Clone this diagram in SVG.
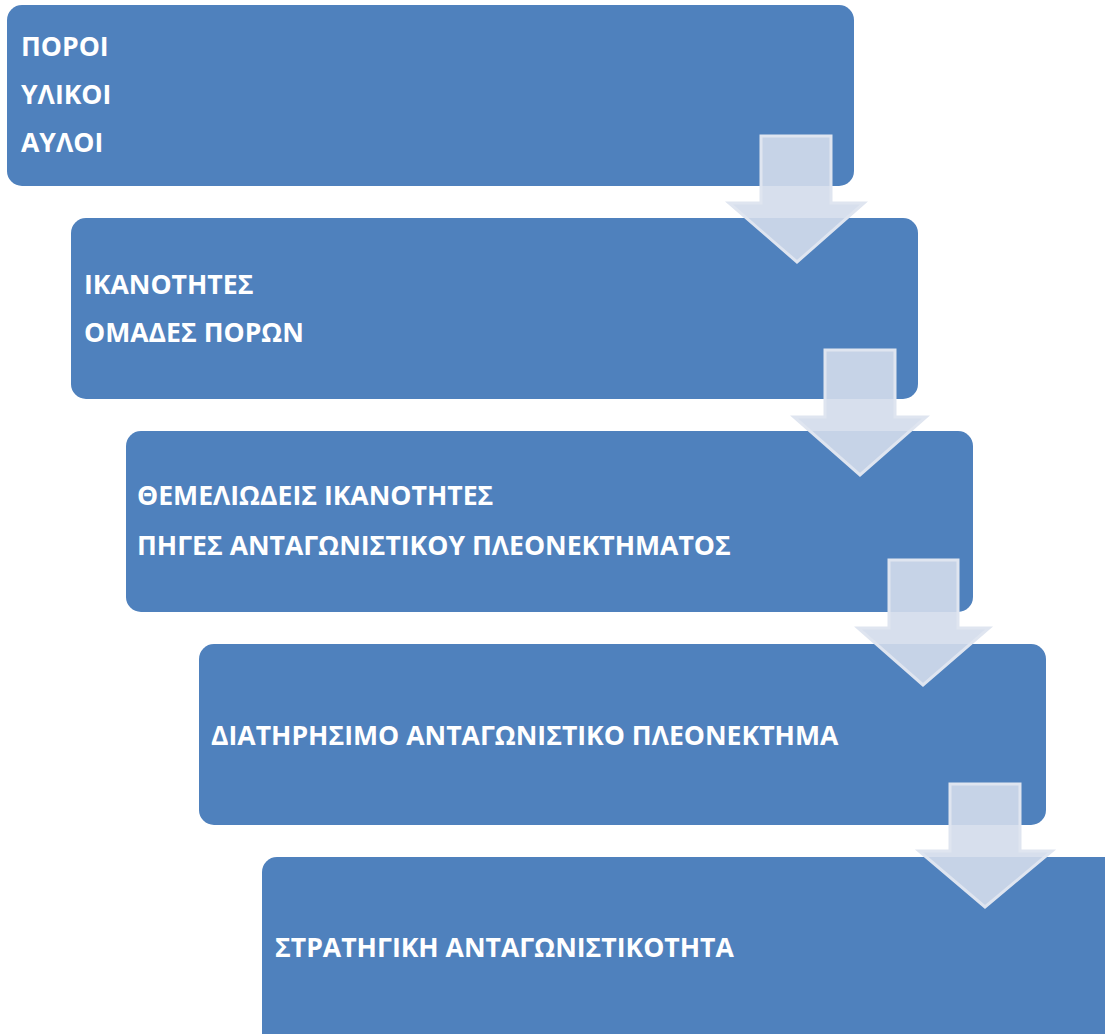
<svg xmlns="http://www.w3.org/2000/svg" width="1105" height="1034" viewBox="0 0 1105 1034">
<style>
.box{fill:#4f81bd;}
.t{font-family:"Open Sans","Noto Sans","DejaVu Sans",sans-serif;font-weight:bold;font-size:26.6px;fill:#ffffff;}
.arr{fill:#d3dbeb;fill-opacity:0.9;stroke:#dfe5f0;stroke-width:3;stroke-linejoin:miter;}
</style>
<rect width="1105" height="1034" fill="#ffffff"/>
<g id="node1"><rect class="box" x="7" y="5" width="847" height="181" rx="15"/>
<text class="t" x="21" y="56">ΠΟΡΟΙ</text><text class="t" x="21" y="104">ΥΛΙΚΟΙ</text><text class="t" x="21" y="152">ΑΥΛΟΙ</text></g>
<g id="node2"><rect class="box" x="71" y="218" width="847" height="181" rx="15"/>
<text class="t" x="84" y="294">ΙΚΑΝΟΤΗΤΕΣ</text><text class="t" x="84" y="342">ΟΜΑΔΕΣ ΠΟΡΩΝ</text></g>
<g id="node3"><rect class="box" x="126" y="431" width="847" height="181" rx="15"/>
<text class="t" x="137" y="505">ΘΕΜΕΛΙΩΔΕΙΣ ΙΚΑΝΟΤΗΤΕΣ</text><text class="t" x="137" y="555">ΠΗΓΕΣ ΑΝΤΑΓΩΝΙΣΤΙΚΟΥ ΠΛΕΟΝΕΚΤΗΜΑΤΟΣ</text></g>
<g id="node4"><rect class="box" x="199" y="644" width="847" height="181" rx="15"/>
<text class="t" x="211" y="745">ΔΙΑΤΗΡΗΣΙΜΟ ΑΝΤΑΓΩΝΙΣΤΙΚΟ ΠΛΕΟΝΕΚΤΗΜΑ</text></g>
<g id="node5"><rect class="box" x="262" y="857" width="860" height="200" rx="15"/>
<text class="t" x="275" y="957">ΣΤΡΑΤΗΓΙΚΗ ΑΝΤΑΓΩΝΙΣΤΙΚΟΤΗΤΑ</text></g>
<g id="connectors">
<polygon class="arr" points="761,136 831,136 831,203 864,203 797,262 729,203 761,203"/>
<polygon class="arr" points="825,350 895,350 895,417 926,417 860,475 794,417 825,417"/>
<polygon class="arr" points="889,560 958,560 958,628 989,628 923,685 858,628 889,628"/>
<polygon class="arr" points="950,784 1020,784 1020,851 1052,851 985,907 919,851 950,851"/>
</g>
</svg>
